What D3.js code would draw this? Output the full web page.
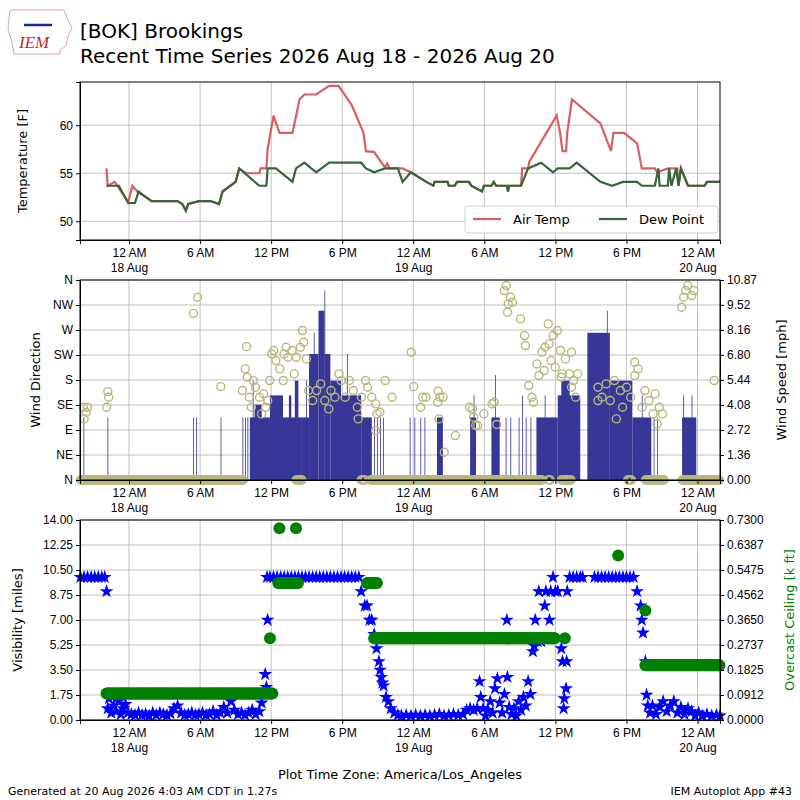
<!DOCTYPE html>
<html lang="en">
<head>
<meta charset="UTF-8">
<title>[BOK] Brookings</title>
<style>
  body { margin: 0; background: #fff; }
  svg { font-family: "DejaVu Sans", sans-serif; }
  .grid line { stroke: #b0b0b0; stroke-width: 0.8; }
  .axis text { font-size: 12px; fill: #000; }
  .axis path, .axis line { stroke: #000; }
</style>
</head>
<body>
<div id="chart"></div>
<script src="https://cdn.jsdelivr.net/npm/d3@7"></script>
<script>
// times are hours after 2026-08-18 00:00 (America/Los_Angeles)
const timeDomain = [-4.14, 49.9];
const timeTicks = [0, 6, 12, 18, 24, 30, 36, 42, 48];
const tickNames = ["12 AM", "6 AM", "12 PM", "6 PM"];
const dayNames = { 0: "18 Aug", 24: "19 Aug", 48: "20 Aug" };

const airTemp = [[-1.9,55.5],[-1.8,53.7],[-1.2,54.1],[-1.0,53.7],[-0.07,52.0],[0.28,53.7],[0.69,53.1],
  [1.9,52.1],[4.1,52.1],[4.5,51.8],[4.8,51.1],[5.0,51.8],[5.9,52.1],[6.9,52.1],[7.6,51.8],[7.9,53.1],
  [9.0,54.1],[9.3,55.5],[9.9,55.0],[11.0,55.0],[11.1,55.5],[11.6,55.5],[11.7,57.5],[12.2,61.0],[12.7,59.2],
  [13.8,59.2],[14.4,62.7],[14.8,63.2],[15.8,63.2],[16.9,64.1],[17.7,64.1],[18.8,62.1],[19.8,59.2],[20.0,57.3],
  [20.7,57.2],[21.6,55.6],[21.8,56.0],[22.0,55.5],[23.1,55.5],[23.8,55.1],[25.1,54.1],[25.7,53.7],[25.8,54.1],
  [26.9,54.1],[27.0,53.7],[27.5,53.7],[27.7,54.1],[28.7,54.1],[28.9,53.7],[29.8,53.1],[29.96,53.7],[30.6,53.7],
  [30.8,54.1],[31.0,53.7],[31.9,53.7],[32.0,53.1],[32.1,53.7],[33.1,53.7],[33.2,55.5],[33.7,55.5],[33.8,56.2],
  [36.1,61.0],[36.4,59.2],[36.6,57.3],[36.9,57.3],[37.0,59.2],[37.4,62.7],[39.8,60.2],[40.7,57.3],[40.9,59.2],
  [41.8,59.2],[42.9,58.1],[43.3,55.5],[44.4,55.5],[44.6,55.1],[45.5,55.5],[46.3,55.5],[46.4,53.7],[46.6,55.5],
  [47.2,53.7],[48.6,53.7],[48.8,54.1],[49.9,54.1]];

const dewPoint = [[-1.9,53.7],[-0.86,53.7],[-0.07,51.9],[0.5,51.9],[0.8,53.1],[1.9,52.1],[4.1,52.1],[4.5,51.8],
  [4.8,51.1],[5.0,51.8],[5.9,52.1],[6.9,52.1],[7.6,51.8],[7.9,53.1],[9.0,54.1],[9.3,55.5],[11.0,53.7],[11.6,53.7],
  [11.7,55.5],[12.4,55.5],[13.8,54.1],[14.1,55.5],[14.8,56.1],[15.8,55.1],[16.9,56.1],[19.6,56.1],[20.0,55.5],
  [20.7,55.1],[21.6,55.5],[22.7,55.5],[23.1,54.1],[23.8,55.1],[25.1,54.1],[25.7,53.7],[25.8,54.1],[26.9,54.1],
  [27.0,53.7],[27.5,53.7],[27.7,54.1],[28.7,54.1],[28.9,53.7],[29.8,53.1],[29.96,53.7],[30.6,53.7],[30.8,54.1],
  [31.0,53.7],[31.9,53.7],[32.0,53.1],[32.1,53.7],[33.1,53.7],[33.7,55.5],[34.8,56.1],[35.8,55.1],[36.2,55.5],
  [37.2,55.5],[37.8,56.1],[39.8,54.1],[40.8,53.7],[41.7,54.1],[42.9,54.1],[43.3,53.7],[44.4,53.7],[44.7,55.5],
  [44.8,53.7],[45.5,53.7],[45.6,55.5],[45.8,53.7],[46.2,55.5],[46.4,53.7],[46.6,55.5],[47.2,53.7],[48.6,53.7],
  [48.8,54.1],[49.9,54.1]];

// wind speed observations: [start hour, end hour, mph]
const windSpeed = [[-4.12,-4.08,3.4],[-3.85,-3.81,3.4],[-1.82,-1.78,3.4],[5.42,5.46,3.4],[5.66,5.7,3.4],[7.73,7.77,3.4],
  [9.58,9.62,3.4],[9.8,9.84,3.4],[10.0,10.04,3.4],[10.2,11.9,3.4],[10.6,11.2,4.1],[10.45,10.5,5.4],[11.9,13.0,4.6],
  [13.0,14.6,3.4],[13.5,13.7,4.6],[14.0,14.3,5.4],[14.6,15.2,3.4],[14.95,15.0,5.4],[15.2,16.0,6.85],
  [15.6,15.65,8.0],[16.0,16.5,9.2],[16.5,16.55,10.3],[16.5,17.0,6.85],[17.0,17.9,5.4],[17.9,19.6,4.6],[18.4,18.45,6.85],
  [19.6,20.5,3.4],[20.7,20.74,3.4],[20.95,21.0,3.4],[21.2,21.24,3.4],[21.45,21.5,3.4],
  [23.7,23.74,3.4],[24.1,24.14,3.4],[24.6,24.64,3.4],[24.95,25.0,3.4],[26.0,26.5,3.4],
  [28.8,29.3,3.4],[29.1,29.15,4.6],[30.6,31.3,3.4],[30.9,30.95,5.7],[31.8,31.84,3.4],[32.2,32.24,3.4],
  [32.9,32.94,3.4],[33.2,33.25,4.6],[33.5,33.54,3.4],[33.9,33.94,3.4],[34.4,36.2,3.4],[35.1,35.15,4.6],
  [36.2,38.1,4.6],[36.5,37.2,5.4],[38.7,40.6,8.0],[40.35,40.4,9.2],[40.6,42.5,5.4],[42.5,44.1,3.4],[43.3,43.35,4.6],
  [44.3,44.34,3.4],[44.6,44.64,3.4],[46.7,47.9,3.4],[46.8,46.85,4.6],[47.5,47.55,4.6]];

// wind direction observations: [hour, degrees]
const windDir = [[-3.86,131],[-3.62,122],[-3.51,131],[-3.79,110],[-1.79,159],[-1.72,149],[-1.89,131],[5.44,300],[5.79,329],
  [7.75,168],[9.57,161],[9.81,200],[9.92,240],[9.99,185],[10.16,149],[10.33,131],[10.5,179],[10.67,167],[11.02,149],
  [11.19,119],[11.36,155],[11.54,131],[11.71,143],[11.88,179],[12.05,227],[12.22,233],[12.4,215],[12.74,200],
  [13.02,179],[13.09,227],[13.26,239],[13.43,221],[13.77,233],[13.95,191],[14.12,221],[14.46,239],[14.64,269],
  [14.74,248],[14.98,218],[15.15,161],[15.5,143],[15.84,161],[16.18,173],[16.53,143],[16.87,128],[17.05,161],
  [17.39,149],[17.73,191],[17.91,179],[18.25,149],[18.6,179],[18.94,161],[19.28,131],[19.35,110],[19.63,149],
  [19.97,179],[20.14,167],[20.49,149],[20.83,137],[20.94,119],[21.18,122],[20.83,89],[21.63,179],[22.21,149],
  [23.83,230],[24.04,168],[24.62,131],[24.79,149],[25.07,149],[26.1,160],[26.24,149],[26.52,149],[26.07,140],
  [26.17,110],[27.55,80],[26.62,50],[28.75,131],[28.99,128],[29.1,113],[29.27,98],[29.44,98],[29.96,119],
  [30.65,137],[30.82,140],[31.06,100],[31.68,341],[31.85,350],[31.96,302],[32.02,317],[32.2,329],[32.37,320],
  [33.06,290],[33.4,260],[33.47,242],[33.75,170],[34.02,149],[34.16,140],[34.44,209],[34.61,188],[34.85,230],
  [35.05,197],[35.12,239],[35.4,281],[35.47,245],[35.64,215],[35.81,260],[35.98,203],[36.16,269],[36.43,233],
  [36.57,191],[36.85,218],[37.19,191],[37.36,230],[37.53,179],[37.71,149],[37.88,191],[37.36,167],[36.5,185],
  [39.6,167],[39.94,149],[40.29,173],[40.63,143],[40.98,179],[41.15,110],[41.49,161],[41.67,131],[42.01,167],
  [42.36,149],[42.7,212],[42.98,200],[42.7,188],[43.32,131],[43.56,161],[43.9,143],[44.25,119],[44.42,155],
  [44.59,101],[44.77,131],[45.04,119],[39.6,143],[46.66,311],[46.83,329],[47.0,341],[47.18,350],[47.52,332],
  [47.69,341],[49.41,179]];

// calm (0 degree) reports: [start hour, end hour]
const calmRuns = [[-4.1,9.7],[14.1,14.6],[19.6,20.0],[20.4,34.9],[35.4,35.6],[36.5,37.4],[42.1,42.5],[43.6,45.2],[46.7,49.9]];

// visibility [miles]: [hour, value]
const visibility = [[-4.1,10],[-3.8,10],[-3.5,10],[-3.2,10],[-2.9,10],[-2.6,10],[-2.3,10],[-2.05,10],[-1.9,9.0],
  [-1.8,0.8],[-1.7,1.5],[-1.5,0.5],[-1.3,1.0],[-1.1,0.6],[-0.9,1.3],[-0.7,0.4],[-0.5,0.8],[-0.3,1.1],[-0.1,0.5],
  [0.2,0.4],[0.5,0.35],[0.8,0.5],[1.1,0.35],[1.4,0.4],[1.7,0.3],[2.0,0.5],[2.3,0.35],[2.6,0.5],[2.9,0.4],
  [3.2,0.35],[3.5,0.45],[3.8,0.8],[4.1,1.0],[4.4,0.5],[4.7,0.35],[5.0,0.4],[5.3,0.5],[5.6,0.35],[5.9,0.4],
  [6.2,0.5],[6.5,0.35],[6.8,0.4],[7.1,0.6],[7.4,0.35],[7.7,0.5],[8.0,0.9],[8.3,0.5],[8.6,1.3],[8.9,0.7],
  [9.2,0.4],[9.5,0.5],[9.8,0.35],[10.1,0.5],[10.4,0.7],[10.7,0.4],[11.0,0.6],[11.2,1.2],[11.4,2.0],[11.5,3.2],
  [11.6,2.3],[11.65,10],[11.7,7.0],[11.9,10],[12.2,10],[12.5,10],[12.8,10],[13.1,10],[13.4,10],[13.7,10],
  [14.0,10],[14.3,10],[14.6,10],[14.9,10],[15.2,10],[15.5,10],[15.8,10],[16.1,10],[16.4,10],[16.7,10],[17.0,10],
  [17.3,10],[17.6,10],[17.9,10],[18.2,10],[18.5,10],[18.8,10],[19.1,10],[19.4,10],[19.6,9.0],[19.9,8.0],
  [20.1,8.0],[20.3,7.0],[20.5,7.0],[20.7,6.0],[20.9,5.0],[21.1,4.1],[21.2,3.5],[21.3,3.0],[21.4,2.6],[21.5,2.4],
  [21.7,1.6],[21.9,1.3],[22.1,0.8],[22.4,0.5],[22.7,0.35],[23.0,0.3],[23.4,0.35],[23.8,0.3],[24.2,0.35],
  [24.6,0.3],[25.0,0.35],[25.4,0.3],[25.8,0.35],[26.2,0.4],[26.6,0.3],[27.0,0.35],[27.4,0.4],[27.8,0.35],
  [28.2,0.4],[28.5,0.7],[28.8,0.8],[29.1,0.7],[29.4,0.8],[29.6,2.7],[29.7,1.6],[29.9,0.8],[30.1,0.3],[30.3,0.7],
  [30.5,1.3],[30.7,0.5],[30.9,2.2],[31.1,2.9],[31.3,1.2],[31.5,0.5],[31.7,1.8],[31.9,7.0],[31.95,3.0],[32.1,0.9],
  [32.3,0.4],[32.5,0.8],[32.7,0.3],[32.9,1.3],[33.1,0.7],[33.3,1.6],[33.5,1.0],[33.7,2.7],[33.9,1.8],[34.1,4.8],
  [34.2,5.2],[34.3,7.0],[34.5,5.5],[34.6,9.0],[34.8,5.5],[35.1,8.0],[35.2,9.0],[35.5,7.0],[35.6,9.0],[35.8,10],
  [36.0,9.0],[36.2,9.0],[36.5,5.0],[36.6,4.1],[36.7,0.8],[36.75,1.5],[36.9,2.2],[36.95,4.1],[37.0,9.0],[37.2,10],
  [37.5,10],[37.8,10],[38.1,10],[38.3,10],[39.3,10],[39.6,10],[39.9,10],[40.2,10],[40.5,10],[40.8,10],[41.1,10],
  [41.4,10],[41.7,10],[42.0,10],[42.3,10],[42.6,10],[42.9,9.0],[43.2,8.0],[43.3,7.0],[43.4,6.1],[43.6,4.1],
  [43.7,1.75],[43.8,1.0],[44.0,0.5],[44.2,1.0],[44.5,0.4],[44.8,0.9],[45.1,1.3],[45.4,0.6],[45.7,1.0],[46.0,1.3],
  [46.3,0.5],[46.6,0.9],[46.9,0.4],[47.2,0.8],[47.5,0.6],[47.8,0.3],[48.1,0.5],[48.4,0.3],[48.8,0.4],[49.2,0.3],
  [49.6,0.35],[49.9,0.3]];

// overcast ceiling [k ft] reports: [start hour, end hour, value]
const ceilingRuns = [[-1.9,12.1,0.097],[11.9,11.9,0.298],[12.7,12.7,0.70],[14.1,14.1,0.70],[12.6,14.3,0.50],
  [20.1,21.0,0.50],[20.7,36.0,0.298],[36.8,36.8,0.298],[41.3,41.3,0.60],[43.6,43.6,0.40],[43.6,49.9,0.20]];

const dirTicks = ["N", "NE", "E", "SE", "S", "SW", "W", "NW", "N"];
const speedTicks = ["0.00","1.36","2.72","4.08","5.44","6.80","8.16","9.52","10.87"];
const visTicks = ["0.00","1.75","3.50","5.25","7.00","8.75","10.50","12.25","14.00"];
const ceilTicks = ["0.0000","0.0912","0.1825","0.2737","0.3650","0.4562","0.5475","0.6387","0.7300"];

const width = 800, height = 800;
const left = 80, right = 720;

const svg = d3.select("#chart").append("svg")
  .attr("width", width).attr("height", height);

const x = d3.scaleLinear().domain(timeDomain).range([left, right]);

function timeAxis(g, y0) {
  g.attr("class", "axis").attr("transform", `translate(0,${y0})`)
    .call(d3.axisBottom(x).tickValues(timeTicks).tickSize(4).tickFormat(""));
  g.selectAll(".tick").each(function (d) {
    const t = d3.select(this);
    t.append("text").attr("y", 17).attr("text-anchor", "middle").text(tickNames[(d / 6) % 4]);
    if (dayNames[d]) t.append("text").attr("y", 32).attr("text-anchor", "middle").text(dayNames[d]);
  });
}

function panel(top, bottom) {
  const g = svg.append("g");
  g.append("g").attr("class", "grid")
    .selectAll("line").data(timeTicks).join("line")
    .attr("x1", d => x(d)).attr("x2", d => x(d)).attr("y1", top).attr("y2", bottom);
  return g;
}

function hgrid(g, y, vals) {
  g.append("g").attr("class", "grid").selectAll("line").data(vals).join("line")
    .attr("x1", left).attr("x2", right).attr("y1", d => y(d)).attr("y2", d => y(d));
}

function frame(top, bottom) {
  svg.append("rect").attr("x", left).attr("y", top).attr("width", right - left)
    .attr("height", bottom - top).attr("fill", "none").attr("stroke", "#000");
}

function ylabel(txt, xp, yp, color) {
  svg.append("text").attr("transform", `translate(${xp},${yp}) rotate(-90)`)
    .attr("text-anchor", "middle").attr("font-size", 13).attr("fill", color || "#000").text(txt);
}

// ---- header ----
const logo = svg.append("g").attr("transform", "translate(6,6)");
logo.append("path").attr("d", "M4,4 L58,4 L62,14 L66,22 L62,30 L60,40 L54,44 L54,48 L8,48 L6,36 L2,24 L3,12 Z")
  .attr("fill", "none").attr("stroke", "#e8a0a0").attr("stroke-width", 1);
logo.append("line").attr("x1", 18).attr("x2", 46).attr("y1", 19).attr("y2", 19)
  .attr("stroke", "#1a2a9a").attr("stroke-width", 2.5);
logo.append("text").attr("x", 13).attr("y", 42).attr("font-size", 17).attr("font-style", "italic")
  .attr("font-family", "Liberation Serif").attr("fill", "#c62828").text("IEM");
svg.append("text").attr("x", 80).attr("y", 38).attr("font-size", 20).text("[BOK] Brookings");
svg.append("text").attr("x", 80).attr("y", 63).attr("font-size", 20)
  .text("Recent Time Series 2026 Aug 18 - 2026 Aug 20");

// ---- temperature panel ----
const t0 = 82, t1 = 240;
const yT = d3.scaleLinear().domain([48.05, 64.5]).range([t1, t0]);
const pT = panel(t0, t1);
hgrid(pT, yT, [50, 55, 60]);
const line = d3.line().x(d => x(d[0])).y(d => yT(d[1]));
pT.append("path").datum(airTemp).attr("d", line).attr("fill", "none")
  .attr("stroke", "#d95f62").attr("stroke-width", 2.2);
pT.append("path").datum(dewPoint).attr("d", line).attr("fill", "none")
  .attr("stroke", "#33673b").attr("stroke-width", 2.2);
svg.append("g").attr("class", "axis").attr("transform", `translate(${left},0)`)
  .call(d3.axisLeft(yT).tickValues([50, 55, 60]).tickSize(4));
timeAxis(svg.append("g"), t1);
frame(t0, t1);
ylabel("Temperature [F]", 27, 161);
const lg = svg.append("g").attr("transform", "translate(465,206)");
lg.append("rect").attr("width", 253).attr("height", 27).attr("rx", 3).attr("fill", "#fff")
  .attr("fill-opacity", 0.85).attr("stroke", "#d0d0d0");
[["Air Temp", "#d95f62", 8], ["Dew Point", "#33673b", 134]].forEach(([n, c, ox]) => {
  lg.append("line").attr("x1", ox).attr("x2", ox + 28).attr("y1", 13).attr("y2", 13)
    .attr("stroke", c).attr("stroke-width", 2.2);
  lg.append("text").attr("x", ox + 40).attr("y", 18).attr("font-size", 13).text(n);
});

// ---- wind panel ----
const w0 = 280, w1 = 480;
const yD = d3.scaleLinear().domain([0, 360]).range([w1, w0]);
const yS = d3.scaleLinear().domain([0, 10.87]).range([w1, w0]);
const pW = panel(w0, w1);
hgrid(pW, yD, d3.range(0, 361, 45));
pW.append("g").selectAll("rect").data(windSpeed).join("rect")
  .attr("x", d => x(d[0])).attr("width", d => Math.max(0.8, x(d[1]) - x(d[0])))
  .attr("y", d => yS(d[2])).attr("height", d => yS(0) - yS(d[2])).attr("fill", "#373798");
const calmObs = calmRuns.flatMap(r => d3.range(r[0], r[1] + 0.001, 1 / 12).map(h => [h, 0]));
pW.append("g").selectAll("circle").data(windDir.concat(calmObs)).join("circle")
  .attr("cx", d => x(d[0])).attr("cy", d => yD(d[1])).attr("r", 4)
  .attr("fill", "none").attr("stroke", "#b8b87e").attr("stroke-width", 1.4);
svg.append("g").attr("class", "axis").attr("transform", `translate(${left},0)`)
  .call(d3.axisLeft(yD).tickValues(d3.range(0, 361, 45)).tickSize(4).tickFormat((d, i) => dirTicks[i]));
svg.append("g").attr("class", "axis").attr("transform", `translate(${right},0)`)
  .call(d3.axisRight(yS).tickValues(speedTicks.map(Number)).tickSize(4).tickFormat((d, i) => speedTicks[i]));
timeAxis(svg.append("g"), w1);
frame(w0, w1);
ylabel("Wind Direction", 40, 380);
ylabel("Wind Speed [mph]", 786, 380);

// ---- visibility panel ----
const v0 = 520, v1 = 720;
const yV = d3.scaleLinear().domain([0, 14]).range([v1, v0]);
const yC = d3.scaleLinear().domain([0, 0.73]).range([v1, v0]);
const pV = panel(v0, v1);
hgrid(pV, yV, visTicks.map(Number));
const star = d3.symbol().type(d3.symbolStar).size(60);
pV.append("g").selectAll("path").data(visibility).join("path")
  .attr("transform", d => `translate(${x(d[0])},${yV(d[1])})`).attr("d", star).attr("fill", "#0000ff");
const ceilObs = ceilingRuns.flatMap(r => d3.range(r[0], r[1] + 0.001, 1 / 12).map(h => [h, r[2]]));
pV.append("g").selectAll("circle").data(ceilObs).join("circle")
  .attr("cx", d => x(d[0])).attr("cy", d => yC(d[1])).attr("r", 6).attr("fill", "#008000");
svg.append("g").attr("class", "axis").attr("transform", `translate(${left},0)`)
  .call(d3.axisLeft(yV).tickValues(visTicks.map(Number)).tickSize(4).tickFormat((d, i) => visTicks[i]));
svg.append("g").attr("class", "axis").attr("transform", `translate(${right},0)`)
  .call(d3.axisRight(yC).tickValues(ceilTicks.map(Number)).tickSize(4).tickFormat((d, i) => ceilTicks[i]));
timeAxis(svg.append("g"), v1);
frame(v0, v1);
ylabel("Visibility [miles]", 22, 620);
ylabel("Overcast Ceiling [k ft]", 794, 620, "#008000");

// ---- footer ----
svg.append("text").attr("x", 400).attr("y", 779).attr("text-anchor", "middle").attr("font-size", 13)
  .text("Plot Time Zone: America/Los_Angeles");
svg.append("text").attr("x", 8).attr("y", 795).attr("font-size", 11)
  .text("Generated at 20 Aug 2026 4:03 AM CDT in 1.27s");
svg.append("text").attr("x", 792).attr("y", 795).attr("text-anchor", "end").attr("font-size", 11)
  .text("IEM Autoplot App #43");
</script>
</body>
</html>
